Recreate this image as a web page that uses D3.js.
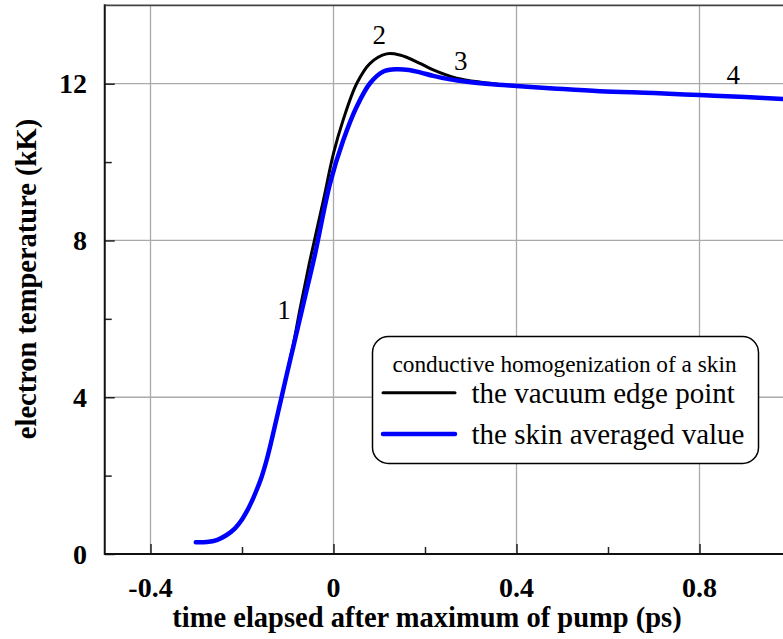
<!DOCTYPE html>
<html><head><meta charset="utf-8">
<script src="https://cdn.jsdelivr.net/npm/d3@7"></script>
<style>html,body{margin:0;padding:0;background:#fff}svg{display:block}</style>
</head><body>
<script>
// time (ps) and electron temperature (kK)
const blueT = [-0.301,-0.277,-0.255,-0.2335,-0.2153,-0.2007,-0.1898,-0.1789,-0.168,-0.157,-0.1461,-0.1352,-0.1242,-0.1133,-0.1024,-0.0878,-0.0732,-0.0587,-0.0404,-0.0077,0.0215,0.0506,0.0798,0.109,0.138,0.165,0.189,0.218,0.255,0.291,0.34,0.4,0.48,0.582,0.7,0.8,0.9,1.0];
const blueV = [0.298,0.306,0.357,0.485,0.655,0.868,1.080,1.335,1.633,1.973,2.399,2.909,3.462,4.015,4.567,5.290,6.013,6.736,7.65,9.45,10.56,11.41,12.01,12.31,12.37,12.35,12.29,12.20,12.11,12.05,11.99,11.94,11.88,11.81,11.76,11.71,11.66,11.60];
const blackT = [-0.301,-0.277,-0.255,-0.2335,-0.2153,-0.2007,-0.1898,-0.1789,-0.168,-0.157,-0.1461,-0.1352,-0.1242,-0.1133,-0.1024,-0.0878,-0.0732,-0.0587,-0.0513,-0.022,0.0,0.021,0.051,0.080,0.116,0.145,0.189,0.218,0.269,0.327,0.364,0.4,0.48,0.582,0.7,0.8,0.9,1.0];
const blackV = [0.298,0.306,0.357,0.485,0.655,0.868,1.080,1.335,1.633,1.973,2.399,2.909,3.462,4.015,4.58,5.35,6.25,7.08,7.5,9.03,10.22,11.07,12.01,12.52,12.76,12.73,12.52,12.35,12.14,12.03,11.98,11.94,11.88,11.81,11.76,11.71,11.66,11.60];
const xTicks = [-0.4, 0, 0.4, 0.8];
const xTickLabels = ["-0.4", "0", "0.4", "0.8"];
const xMinor = [-0.2, 0.2, 0.6];
const yTicks = [0, 4, 8, 12];
const yTickLabels = ["0", "4", "8", "12"];
const yMinor = [2, 6, 10];
const noteText = ["1", "2", "3", "4"];
const noteT = [-0.108, 0.100, 0.278, 0.874];
const noteV = [6.0, 13.0, 12.35, 12.0];
const legendTitle = "conductive homogenization of a skin";
const seriesNames = ["the vacuum edge point", "the skin averaged value"];
const seriesColors = ["#000000", "#0000ff"];
const xTitle = "time elapsed after maximum of pump (ps)";
const yTitle = "electron temperature (kK)";

const W = 783, H = 639;
const svg = d3.select("body").append("svg").attr("width", W).attr("height", H);
const x = d3.scaleLinear().domain([-0.5, 1.0]).range([104.75, 791]);
const y = d3.scaleLinear().domain([0, 14]).range([554, 5.3]);
const serif = "'Liberation Serif','Times New Roman',Times,serif";

// grid
const g = svg.append("g");
g.selectAll("line.gx").data(xTicks.filter(d => d > -0.5)).enter().append("line")
  .attr("x1", d => x(d)).attr("x2", d => x(d)).attr("y1", y(0)).attr("y2", y(14))
  .attr("stroke", "#aaaaaa").attr("stroke-width", 1.3);
g.selectAll("line.gy").data(yTicks.filter(d => d > 0)).enter().append("line")
  .attr("x1", x(-0.5)).attr("x2", x(1.0)).attr("y1", d => y(d)).attr("y2", d => y(d))
  .attr("stroke", "#aaaaaa").attr("stroke-width", 1.3);

// axes ticks (inside)
const axB = svg.append("g").attr("transform", `translate(0,${y(0)})`)
  .call(d3.axisBottom(x).tickValues(xTicks).tickSize(-10).tickFormat(""));
const axBm = svg.append("g").attr("transform", `translate(0,${y(0)})`)
  .call(d3.axisBottom(x).tickValues(xMinor).tickSize(-7).tickFormat(""));
const axL = svg.append("g").attr("transform", `translate(${x(-0.5)},0)`)
  .call(d3.axisLeft(y).tickValues(yTicks).tickSize(-10).tickFormat(""));
const axLm = svg.append("g").attr("transform", `translate(${x(-0.5)},0)`)
  .call(d3.axisLeft(y).tickValues(yMinor).tickSize(-7).tickFormat(""));
[axB, axBm, axL, axLm].forEach(a => {
  a.select(".domain").remove();
  a.selectAll(".tick line").attr("stroke", "#222").attr("stroke-width", 1.5);
});

// frame
svg.append("line").attr("x1", x(-0.5)).attr("x2", x(1.0)).attr("y1", y(0)).attr("y2", y(0)).attr("stroke", "#111").attr("stroke-width", 2);
svg.append("line").attr("x1", x(-0.5)).attr("x2", x(-0.5)).attr("y1", y(0) + 1).attr("y2", y(14) - 1).attr("stroke", "#111").attr("stroke-width", 2);
svg.append("line").attr("x1", x(-0.5)).attr("x2", x(1.0)).attr("y1", y(14)).attr("y2", y(14)).attr("stroke", "#444").attr("stroke-width", 1.8);

// tick labels
svg.selectAll("text.xl").data(xTicks).enter().append("text")
  .attr("x", d => x(d)).attr("y", 597).attr("text-anchor", "middle")
  .attr("font-family", serif).attr("font-weight", "bold").attr("font-size", 28)
  .text((d, i) => xTickLabels[i]);
svg.selectAll("text.yl").data(yTicks).enter().append("text")
  .attr("x", 87).attr("y", d => y(d) + 9.5).attr("text-anchor", "end")
  .attr("font-family", serif).attr("font-weight", "bold").attr("font-size", 28)
  .text((d, i) => yTickLabels[i]);

// axis titles
svg.append("text").attr("x", 427).attr("y", 627).attr("text-anchor", "middle")
  .attr("font-family", serif).attr("font-weight", "bold").attr("font-size", 28.5).text(xTitle);
svg.append("text").attr("transform", "translate(36,279) rotate(-90)").attr("text-anchor", "middle")
  .attr("font-family", serif).attr("font-weight", "bold").attr("font-size", 28.5).text(yTitle);

// curves
const line = d3.line().x(d => x(d[0])).y(d => y(d[1])).curve(d3.curveCatmullRom.alpha(0.5));
const blackData = blackT.map((t, i) => [t, blackV[i]]);
const blueData = blueT.map((t, i) => [t, blueV[i]]);
svg.append("clipPath").attr("id", "pc").append("rect")
  .attr("x", x(-0.5)).attr("y", y(14)).attr("width", x(1.0) - x(-0.5)).attr("height", y(0) - y(14));
svg.append("path").datum(blackData).attr("d", line).attr("fill", "none")
  .attr("stroke", seriesColors[0]).attr("stroke-width", 3).attr("clip-path", "url(#pc)");
svg.append("path").datum(blueData).attr("d", line).attr("fill", "none")
  .attr("stroke", seriesColors[1]).attr("stroke-width", 4.5).attr("stroke-linecap", "round").attr("clip-path", "url(#pc)");

// annotations
svg.selectAll("text.note").data(noteText).enter().append("text")
  .attr("x", (d, i) => x(noteT[i])).attr("y", (d, i) => y(noteV[i]))
  .attr("text-anchor", "middle").attr("font-family", serif).attr("font-size", 27)
  .text(d => d);

// legend
const lg = svg.append("g");
lg.append("rect").attr("x", 372.5).attr("y", 336.5).attr("width", 386).attr("height", 127)
  .attr("rx", 16).attr("ry", 16).attr("fill", "#fff").attr("stroke", "#000").attr("stroke-width", 1.5);
lg.append("text").attr("x", 564.5).attr("y", 371.5).attr("text-anchor", "middle")
  .attr("font-family", serif).attr("font-size", 23.3).text(legendTitle);
const rowsY = [392.7, 434];
const textY = [402.7, 443.5];
seriesNames.forEach((n, i) => {
  lg.append("line").attr("x1", 383).attr("x2", 455).attr("y1", rowsY[i]).attr("y2", rowsY[i])
    .attr("stroke", seriesColors[i]).attr("stroke-width", i === 0 ? 3 : 4.5).attr("stroke-linecap", "round");
  lg.append("text").attr("x", 471.5).attr("y", textY[i]).attr("font-family", serif).attr("font-size", 29).text(n);
});
</script>
</body></html>
